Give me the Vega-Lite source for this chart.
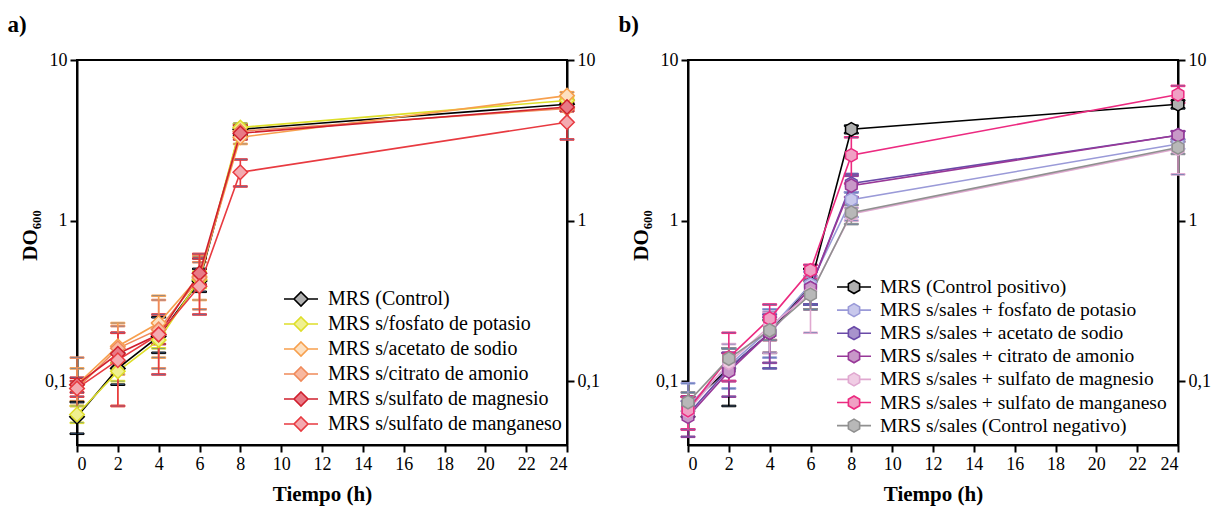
{
  "$schema": "https://vega.github.io/schema/vega-lite/v6.json",
  "padding": {"left": 6, "top": 13, "right": 5, "bottom": 5},
  "spacing": 16,
  "resolve": {"scale": {"color": "independent", "stroke": "independent", "fill": "independent"}, "legend": {"color": "independent", "stroke": "independent", "fill": "independent"}},
  "config": {
    "font": "Liberation Serif",
    "view": {"stroke": "black", "strokeWidth": 2},
    "axis": {"domainColor": "black", "domainWidth": 2, "tickColor": "black", "tickWidth": 2, "tickSize": 7, "labelFont": "Liberation Serif", "labelFontSize": 18, "labelColor": "black", "titleFont": "Liberation Serif", "titleFontSize": 21, "titleFontWeight": "bold", "titleColor": "black", "grid": false, "labelPadding": 3},
    "axisX": {"titlePadding": 10},
    "legend": {"labelFont": "Liberation Serif", "labelFontSize": 18, "labelColor": "black", "labelLimit": 400, "padding": 0, "symbolOpacity": 1},
    "title": {"font": "Liberation Serif", "fontSize": 23, "fontWeight": "bold", "color": "black", "offset": 14}
  },
  "datasets": {
    "a": [
      {"s": "MRS (Control)", "t": 0, "v": 0.06, "lo": 0.047, "hi": 0.074},
      {"s": "MRS (Control)", "t": 2, "v": 0.12, "lo": 0.095, "hi": 0.15},
      {"s": "MRS (Control)", "t": 4, "v": 0.19, "lo": 0.15, "hi": 0.25},
      {"s": "MRS (Control)", "t": 6, "v": 0.42, "lo": 0.36, "hi": 0.5},
      {"s": "MRS (Control)", "t": 8, "v": 3.7, "lo": 3.4, "hi": 4.0},
      {"s": "MRS (Control)", "t": 24, "v": 5.3, "lo": 5.0, "hi": 5.6},
      {"s": "MRS s/fosfato de potasio", "t": 0, "v": 0.062, "lo": 0.055, "hi": 0.07},
      {"s": "MRS s/fosfato de potasio", "t": 2, "v": 0.115, "lo": 0.1, "hi": 0.13},
      {"s": "MRS s/fosfato de potasio", "t": 4, "v": 0.18, "lo": 0.16, "hi": 0.2},
      {"s": "MRS s/fosfato de potasio", "t": 6, "v": 0.43, "lo": 0.38, "hi": 0.48},
      {"s": "MRS s/fosfato de potasio", "t": 8, "v": 3.8, "lo": 3.6, "hi": 4.0},
      {"s": "MRS s/fosfato de potasio", "t": 24, "v": 5.6, "lo": 5.3, "hi": 5.9},
      {"s": "MRS s/acetato de sodio", "t": 0, "v": 0.095, "lo": 0.075, "hi": 0.12},
      {"s": "MRS s/acetato de sodio", "t": 2, "v": 0.165, "lo": 0.11, "hi": 0.23},
      {"s": "MRS s/acetato de sodio", "t": 4, "v": 0.23, "lo": 0.14, "hi": 0.34},
      {"s": "MRS s/acetato de sodio", "t": 6, "v": 0.45, "lo": 0.32, "hi": 0.6},
      {"s": "MRS s/acetato de sodio", "t": 8, "v": 3.3, "lo": 3.0, "hi": 3.7},
      {"s": "MRS s/acetato de sodio", "t": 24, "v": 6.0, "lo": 5.7, "hi": 6.3},
      {"s": "MRS s/citrato de amonio", "t": 0, "v": 0.09, "lo": 0.07, "hi": 0.14},
      {"s": "MRS s/citrato de amonio", "t": 2, "v": 0.16, "lo": 0.07, "hi": 0.22},
      {"s": "MRS s/citrato de amonio", "t": 4, "v": 0.21, "lo": 0.12, "hi": 0.32},
      {"s": "MRS s/citrato de amonio", "t": 6, "v": 0.44, "lo": 0.28, "hi": 0.55},
      {"s": "MRS s/citrato de amonio", "t": 8, "v": 3.6, "lo": 3.3, "hi": 3.9},
      {"s": "MRS s/citrato de amonio", "t": 24, "v": 5.0, "lo": 4.8, "hi": 5.3},
      {"s": "MRS s/sulfato de magnesio", "t": 0, "v": 0.095, "lo": 0.085, "hi": 0.105},
      {"s": "MRS s/sulfato de magnesio", "t": 2, "v": 0.148, "lo": 0.13, "hi": 0.2},
      {"s": "MRS s/sulfato de magnesio", "t": 4, "v": 0.195, "lo": 0.17, "hi": 0.23},
      {"s": "MRS s/sulfato de magnesio", "t": 6, "v": 0.47, "lo": 0.4, "hi": 0.58},
      {"s": "MRS s/sulfato de magnesio", "t": 8, "v": 3.5, "lo": 3.2, "hi": 3.9},
      {"s": "MRS s/sulfato de magnesio", "t": 24, "v": 5.1, "lo": 4.8, "hi": 5.4},
      {"s": "MRS s/sulfato de manganeso", "t": 0, "v": 0.09, "lo": 0.08, "hi": 0.1},
      {"s": "MRS s/sulfato de manganeso", "t": 2, "v": 0.135, "lo": 0.07, "hi": 0.2},
      {"s": "MRS s/sulfato de manganeso", "t": 4, "v": 0.195, "lo": 0.11, "hi": 0.26},
      {"s": "MRS s/sulfato de manganeso", "t": 6, "v": 0.39, "lo": 0.26, "hi": 0.62},
      {"s": "MRS s/sulfato de manganeso", "t": 8, "v": 2.0, "lo": 1.63, "hi": 2.4},
      {"s": "MRS s/sulfato de manganeso", "t": 24, "v": 4.1, "lo": 3.2, "hi": 4.9}
    ],
    "b": [
      {"s": "MRS (Control positivo)", "t": 0, "v": 0.07, "lo": 0.06, "hi": 0.08},
      {"s": "MRS (Control positivo)", "t": 2, "v": 0.12, "lo": 0.07, "hi": 0.16},
      {"s": "MRS (Control positivo)", "t": 4, "v": 0.2, "lo": 0.15, "hi": 0.24},
      {"s": "MRS (Control positivo)", "t": 6, "v": 0.4, "lo": 0.3, "hi": 0.5},
      {"s": "MRS (Control positivo)", "t": 8, "v": 3.7, "lo": 3.5, "hi": 3.9},
      {"s": "MRS (Control positivo)", "t": 24, "v": 5.3, "lo": 5.0, "hi": 5.6},
      {"s": "MRS s/sales + fosfato de potasio", "t": 0, "v": 0.07, "lo": 0.05, "hi": 0.097},
      {"s": "MRS s/sales + fosfato de potasio", "t": 2, "v": 0.125, "lo": 0.09, "hi": 0.16},
      {"s": "MRS s/sales + fosfato de potasio", "t": 4, "v": 0.21, "lo": 0.14, "hi": 0.28},
      {"s": "MRS s/sales + fosfato de potasio", "t": 6, "v": 0.4, "lo": 0.3, "hi": 0.48},
      {"s": "MRS s/sales + fosfato de potasio", "t": 8, "v": 1.35, "lo": 1.05, "hi": 1.5},
      {"s": "MRS s/sales + fosfato de potasio", "t": 24, "v": 3.0, "lo": 2.8, "hi": 3.2},
      {"s": "MRS s/sales + acetato de sodio", "t": 0, "v": 0.062, "lo": 0.05, "hi": 0.075},
      {"s": "MRS s/sales + acetato de sodio", "t": 2, "v": 0.12, "lo": 0.1, "hi": 0.15},
      {"s": "MRS s/sales + acetato de sodio", "t": 4, "v": 0.2, "lo": 0.12, "hi": 0.26},
      {"s": "MRS s/sales + acetato de sodio", "t": 6, "v": 0.38, "lo": 0.3, "hi": 0.45},
      {"s": "MRS s/sales + acetato de sodio", "t": 8, "v": 1.7, "lo": 1.5, "hi": 1.95},
      {"s": "MRS s/sales + acetato de sodio", "t": 24, "v": 3.4, "lo": 3.2, "hi": 3.6},
      {"s": "MRS s/sales + citrato de amonio", "t": 0, "v": 0.06, "lo": 0.045, "hi": 0.08},
      {"s": "MRS s/sales + citrato de amonio", "t": 2, "v": 0.115, "lo": 0.08, "hi": 0.15},
      {"s": "MRS s/sales + citrato de amonio", "t": 4, "v": 0.2, "lo": 0.13, "hi": 0.25},
      {"s": "MRS s/sales + citrato de amonio", "t": 6, "v": 0.38, "lo": 0.28, "hi": 0.45},
      {"s": "MRS s/sales + citrato de amonio", "t": 8, "v": 1.65, "lo": 1.4, "hi": 1.9},
      {"s": "MRS s/sales + citrato de amonio", "t": 24, "v": 3.4, "lo": 3.1, "hi": 3.6},
      {"s": "MRS s/sales + sulfato de magnesio", "t": 0, "v": 0.065, "lo": 0.05, "hi": 0.085},
      {"s": "MRS s/sales + sulfato de magnesio", "t": 2, "v": 0.13, "lo": 0.1, "hi": 0.17},
      {"s": "MRS s/sales + sulfato de magnesio", "t": 4, "v": 0.22, "lo": 0.15, "hi": 0.27},
      {"s": "MRS s/sales + sulfato de magnesio", "t": 6, "v": 0.35, "lo": 0.2, "hi": 0.45},
      {"s": "MRS s/sales + sulfato de magnesio", "t": 8, "v": 1.1, "lo": 1.0, "hi": 1.2},
      {"s": "MRS s/sales + sulfato de magnesio", "t": 24, "v": 2.8, "lo": 1.94, "hi": 3.1},
      {"s": "MRS s/sales + sulfato de manganeso", "t": 0, "v": 0.066, "lo": 0.05, "hi": 0.08},
      {"s": "MRS s/sales + sulfato de manganeso", "t": 2, "v": 0.14, "lo": 0.1, "hi": 0.2},
      {"s": "MRS s/sales + sulfato de manganeso", "t": 4, "v": 0.245, "lo": 0.18, "hi": 0.3},
      {"s": "MRS s/sales + sulfato de manganeso", "t": 6, "v": 0.49, "lo": 0.43, "hi": 0.53},
      {"s": "MRS s/sales + sulfato de manganeso", "t": 8, "v": 2.55, "lo": 1.7, "hi": 3.3},
      {"s": "MRS s/sales + sulfato de manganeso", "t": 24, "v": 6.1, "lo": 5.4, "hi": 6.9},
      {"s": "MRS s/sales (Control negativo)", "t": 0, "v": 0.074, "lo": 0.065, "hi": 0.085},
      {"s": "MRS s/sales (Control negativo)", "t": 2, "v": 0.138, "lo": 0.12, "hi": 0.16},
      {"s": "MRS s/sales (Control negativo)", "t": 4, "v": 0.207, "lo": 0.18, "hi": 0.24},
      {"s": "MRS s/sales (Control negativo)", "t": 6, "v": 0.345, "lo": 0.28, "hi": 0.42},
      {"s": "MRS s/sales (Control negativo)", "t": 8, "v": 1.12, "lo": 0.95, "hi": 1.25},
      {"s": "MRS s/sales (Control negativo)", "t": 24, "v": 2.85, "lo": 2.6, "hi": 3.1}
    ]
  },
  "hconcat": [
    {
      "width": 490, "height": 385,
      "title": {"text": "a)", "anchor": "start", "frame": "bounds", "dx": -12},
      "data": {"name": "a"},
      "layer": [
        {
          "mark": {"type": "errorbar", "ticks": {"size": 14, "opacity": 1}, "rule": {"opacity": 1}, "thickness": 1.6, "opacity": 1},
          "encoding": {
            "x": {"field": "t", "type": "quantitative", "scale": {"domain": [0, 24], "nice": false}, "axis": {"values": [0, 2, 4, 6, 8, 10, 12, 14, 16, 18, 20, 22, 24], "title": "Tiempo (h)"}},
            "y": {"field": "lo", "type": "quantitative", "scale": {"type": "log", "domain": [0.04, 10], "nice": false}, "axis": {"values": [0.1, 1, 10], "title": "DO₆₀₀", "titleY": 175, "labelExpr": "datum.value < 0.5 ? '0,1' : datum.label"}},
            "y2": {"field": "hi"},
            "stroke": {"field": "s", "type": "nominal", "title": null, "scale": {"domain": ["MRS (Control)", "MRS s/fosfato de potasio", "MRS s/acetato de sodio", "MRS s/citrato de amonio", "MRS s/sulfato de magnesio", "MRS s/sulfato de manganeso"], "range": ["#000000", "#dede2a", "#f7a04e", "#f08a5a", "#d0202e", "#e83a40"]}}
          }
        },
        {
          "mark": {"type": "line", "strokeWidth": 1.6},
          "encoding": {
            "x": {"field": "t", "type": "quantitative"},
            "y": {"field": "v", "type": "quantitative", "scale": {"type": "log", "domain": [0.04, 10], "nice": false}, "axis": null},
            "stroke": {"field": "s", "type": "nominal", "title": null}
          }
        },
        {
          "mark": {"type": "point", "shape": "diamond", "filled": true, "size": 210, "strokeWidth": 1.5, "opacity": 1},
          "encoding": {
            "x": {"field": "t", "type": "quantitative"},
            "y": {"field": "v", "type": "quantitative", "scale": {"type": "log", "domain": [0.04, 10], "nice": false}, "axis": {"orient": "right", "values": [0.1, 1, 10], "title": null, "labelExpr": "datum.value < 0.5 ? '0,1' : datum.label"}},
            "stroke": {"field": "s", "type": "nominal", "title": null,
              "legend": {"orient": "none", "legendX": 213, "legendY": 228, "symbolType": "M-1.7,0L-0.7,0M0.7,0L1.7,0M0,-0.7L0.7,0L0,0.7L-0.7,0Z", "symbolSize": 400, "symbolStrokeWidth": 1.6, "symbolOpacity": 1, "labelOffset": 16, "rowPadding": 3, "labelFont": "Liberation Serif", "labelFontSize": 20}},
            "fill": {"field": "s", "type": "nominal", "title": null, "scale": {"domain": ["MRS (Control)", "MRS s/fosfato de potasio", "MRS s/acetato de sodio", "MRS s/citrato de amonio", "MRS s/sulfato de magnesio", "MRS s/sulfato de manganeso"], "range": ["#b0b0b0", "#f0f090", "#fde0c0", "#f8b8a0", "#e87a86", "#f4aab0"]},
              "legend": {"orient": "none", "legendX": 213, "legendY": 228, "symbolType": "M-1.7,0L-0.7,0M0.7,0L1.7,0M0,-0.7L0.7,0L0,0.7L-0.7,0Z", "symbolSize": 400, "symbolStrokeWidth": 1.6, "symbolOpacity": 1, "labelOffset": 16, "rowPadding": 3, "labelFont": "Liberation Serif", "labelFontSize": 20}}
          }
        }
      ],
      "resolve": {"scale": {"y": "independent"}}
    },
    {
      "width": 490, "height": 385,
      "title": {"text": "b)", "anchor": "start", "frame": "bounds", "dx": -12},
      "data": {"name": "b"},
      "layer": [
        {
          "mark": {"type": "errorbar", "ticks": {"size": 14, "opacity": 1}, "rule": {"opacity": 1}, "thickness": 1.6, "opacity": 1},
          "encoding": {
            "x": {"field": "t", "type": "quantitative", "scale": {"domain": [0, 24], "nice": false}, "axis": {"values": [0, 2, 4, 6, 8, 10, 12, 14, 16, 18, 20, 22, 24], "title": "Tiempo (h)"}},
            "y": {"field": "lo", "type": "quantitative", "scale": {"type": "log", "domain": [0.04, 10], "nice": false}, "axis": {"values": [0.1, 1, 10], "title": "DO₆₀₀", "titleY": 175, "labelExpr": "datum.value < 0.5 ? '0,1' : datum.label"}},
            "y2": {"field": "hi"},
            "stroke": {"field": "s", "type": "nominal", "title": null, "scale": {"domain": ["MRS (Control positivo)", "MRS s/sales + fosfato de potasio", "MRS s/sales + acetato de sodio", "MRS s/sales + citrato de amonio", "MRS s/sales + sulfato de magnesio", "MRS s/sales + sulfato de manganeso", "MRS s/sales (Control negativo)"], "range": ["#000000", "#9a9ad8", "#6a4aa8", "#983898", "#e0a8d0", "#ec2a80", "#909090"]}}
          }
        },
        {
          "mark": {"type": "line", "strokeWidth": 1.6},
          "encoding": {
            "x": {"field": "t", "type": "quantitative"},
            "y": {"field": "v", "type": "quantitative", "scale": {"type": "log", "domain": [0.04, 10], "nice": false}, "axis": null},
            "stroke": {"field": "s", "type": "nominal", "title": null}
          }
        },
        {
          "mark": {"type": "point", "shape": "M0,-1L0.866,-0.5L0.866,0.5L0,1L-0.866,0.5L-0.866,-0.5Z", "filled": true, "size": 180, "strokeWidth": 1.5, "opacity": 1},
          "encoding": {
            "x": {"field": "t", "type": "quantitative"},
            "y": {"field": "v", "type": "quantitative", "scale": {"type": "log", "domain": [0.04, 10], "nice": false}, "axis": {"orient": "right", "values": [0.1, 1, 10], "title": null, "labelExpr": "datum.value < 0.5 ? '0,1' : datum.label"}},
            "stroke": {"field": "s", "type": "nominal", "title": null,
              "legend": {"orient": "none", "legendX": 155, "legendY": 216, "symbolType": "M-1.7,0L-0.563,0M0.563,0L1.7,0M0,-0.65L0.563,-0.325L0.563,0.325L0,0.65L-0.563,0.325L-0.563,-0.325Z", "symbolSize": 400, "symbolStrokeWidth": 1.6, "symbolOpacity": 1, "labelOffset": 15, "rowPadding": 2.1, "labelFont": "Liberation Serif", "labelFontSize": 19.5}},
            "fill": {"field": "s", "type": "nominal", "title": null, "scale": {"domain": ["MRS (Control positivo)", "MRS s/sales + fosfato de potasio", "MRS s/sales + acetato de sodio", "MRS s/sales + citrato de amonio", "MRS s/sales + sulfato de magnesio", "MRS s/sales + sulfato de manganeso", "MRS s/sales (Control negativo)"], "range": ["#b0b0b0", "#c8c8ec", "#a894cc", "#c898c8", "#f0cce4", "#f0a0c4", "#b8b8b8"]},
              "legend": {"orient": "none", "legendX": 155, "legendY": 216, "symbolType": "M-1.7,0L-0.563,0M0.563,0L1.7,0M0,-0.65L0.563,-0.325L0.563,0.325L0,0.65L-0.563,0.325L-0.563,-0.325Z", "symbolSize": 400, "symbolStrokeWidth": 1.6, "symbolOpacity": 1, "labelOffset": 15, "rowPadding": 2.1, "labelFont": "Liberation Serif", "labelFontSize": 19.5}}
          }
        }
      ],
      "resolve": {"scale": {"y": "independent"}}
    }
  ]
}
